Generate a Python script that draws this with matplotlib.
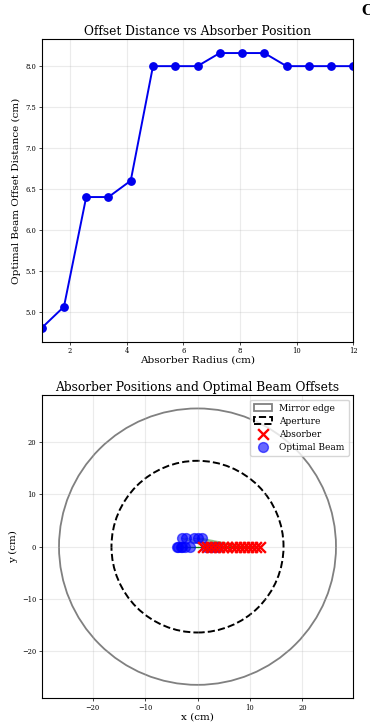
import matplotlib
matplotlib.use("Agg")
import matplotlib.pyplot as plt
from matplotlib.patches import Circle

plt.rcParams['font.family'] = ['DejaVu Serif']

# Data
absorber_radius = [1.0, 1.786, 2.571, 3.357, 4.143, 4.929, 5.714, 6.5,
                   7.286, 8.071, 8.857, 9.643, 10.429, 11.214, 12.0]
offset_distance = [4.8, 5.06, 6.4, 6.4, 6.6, 8.0, 8.0, 8.0,
                   8.16, 8.16, 8.16, 8.0, 8.0, 8.0, 8.0]
absorber_y = [0.0] * 15
beam_x = [-3.8, -3.01, -3.83, -3.04, -2.26, -3.07, -2.29, -1.5,
          -0.71, 0.07, 0.86, 1.64, 2.43, 3.21, 4.0]
beam_y = [0.0, 1.6, 0.0, 0.0, 1.6, 0.0, 0.0, 0.0,
          1.6, 1.6, 1.6, 0.0, 0.0, 0.0, 0.0]
mirror_radius = 26.4
aperture_radius = 16.4

W, H = 370, 728
fig = plt.figure(figsize=(W / 100, H / 100), dpi=100)

# Top panel
ax1 = fig.add_axes([41.7 / W, 1 - 341.7 / H, 311.6 / W, 302.4 / H])
ax1.plot(absorber_radius, offset_distance, 'o-', color='#0000ee',
         lw=1.4, markersize=5.3)
ax1.set_xlim(1, 12)
ax1.set_title('Offset Distance vs Absorber Position', fontsize=8.8, pad=3)
ax1.set_xlabel('Absorber Radius (cm)', fontsize=7.5, labelpad=0.5)
ax1.set_ylabel('Optimal Beam Offset Distance (cm)', fontsize=7.5, labelpad=3)
ax1.grid(True, alpha=0.25)
ax1.tick_params(labelsize=4.9, length=2, width=0.5, pad=2)

# Bottom panel
ax2 = fig.add_axes([41.7 / W, 1 - 698.3 / H, 311.6 / W, 303.3 / H])
ax2.add_patch(Circle((0, 0), mirror_radius, fill=False, edgecolor='gray',
                     lw=1.3, label='Mirror edge'))
ax2.add_patch(Circle((0, 0), aperture_radius, fill=False, edgecolor='black',
                     lw=1.4, ls='--', label='Aperture'))
for ax_, ay, bx, by in zip(absorber_radius, absorber_y, beam_x, beam_y):
    ax2.plot([ax_, bx], [ay, by], color='green', alpha=0.4, lw=0.8)
ax2.scatter(absorber_radius, absorber_y, marker='x', color='red', s=60,
            lw=1.7, label='Absorber', zorder=4)
ax2.scatter(beam_x, beam_y, marker='o', color='blue', s=50, alpha=0.6,
            label='Optimal Beam', zorder=3)
ax2.set_xlim(-29.7, 29.7)
ax2.set_ylim(-28.97, 28.97)
ax2.set_title('Absorber Positions and Optimal Beam Offsets', fontsize=8.8, pad=3)
ax2.set_xlabel('x (cm)', fontsize=7.5, labelpad=0.5)
ax2.set_ylabel('y (cm)', fontsize=7.5, labelpad=3)
ax2.grid(True, alpha=0.25)
ax2.tick_params(labelsize=4.9, length=2, width=0.5, pad=2)
ax2.legend(loc='upper right', fontsize=6.5, framealpha=0.8,
           borderpad=0.45, labelspacing=0.45, handlelength=2.0,
           borderaxespad=0.5)

fig.text(361 / W, 1 - 15 / H, 'C', fontsize=10, fontweight='bold',
         ha='left', va='baseline')

fig.savefig('out.png', dpi=100)
